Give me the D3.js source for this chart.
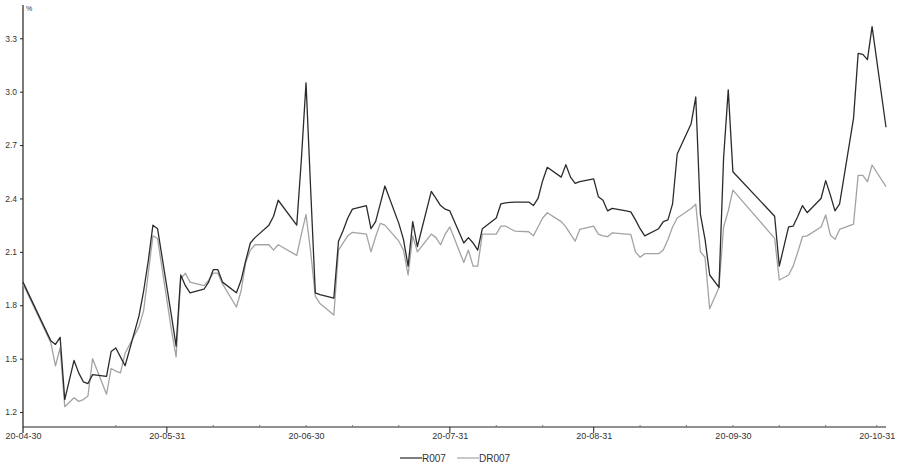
<!DOCTYPE html>
<html>
<head>
<meta charset="utf-8">
<script src="https://cdn.jsdelivr.net/npm/d3@7"></script>
<style>
  html, body { margin: 0; padding: 0; background: #fff; }
  svg { display: block; font-family: Arial, "Liberation Sans", sans-serif; }
</style>
</head>
<body>
<svg id="chart" width="899" height="468"></svg>
<script>
// ---------------- data ----------------
const dates = [
  "2020-04-30","2020-05-06","2020-05-07","2020-05-08","2020-05-09","2020-05-11","2020-05-12","2020-05-13","2020-05-14","2020-05-15",
  "2020-05-18","2020-05-19","2020-05-20","2020-05-21","2020-05-22","2020-05-25","2020-05-26","2020-05-27","2020-05-28","2020-05-29",
  "2020-06-01","2020-06-02","2020-06-03","2020-06-04","2020-06-05","2020-06-08","2020-06-09","2020-06-10","2020-06-11","2020-06-12",
  "2020-06-15","2020-06-16","2020-06-17","2020-06-18","2020-06-19","2020-06-22","2020-06-23","2020-06-24","2020-06-28","2020-06-29",
  "2020-06-30","2020-07-01","2020-07-02","2020-07-03","2020-07-06","2020-07-07","2020-07-08","2020-07-09","2020-07-10","2020-07-13",
  "2020-07-14","2020-07-15","2020-07-16","2020-07-17","2020-07-20","2020-07-21","2020-07-22","2020-07-23","2020-07-24","2020-07-27",
  "2020-07-28","2020-07-29","2020-07-30","2020-07-31","2020-08-03","2020-08-04","2020-08-05","2020-08-06","2020-08-07","2020-08-10",
  "2020-08-11","2020-08-12","2020-08-13","2020-08-14","2020-08-17","2020-08-18","2020-08-19","2020-08-20","2020-08-21","2020-08-24",
  "2020-08-25","2020-08-26","2020-08-27","2020-08-28","2020-08-31","2020-09-01","2020-09-02","2020-09-03","2020-09-04","2020-09-07",
  "2020-09-08","2020-09-09","2020-09-10","2020-09-11","2020-09-14","2020-09-15","2020-09-16","2020-09-17","2020-09-18","2020-09-21",
  "2020-09-22","2020-09-23","2020-09-24","2020-09-25","2020-09-27","2020-09-28","2020-09-29","2020-09-30","2020-10-09","2020-10-10",
  "2020-10-12","2020-10-13","2020-10-14","2020-10-15","2020-10-16","2020-10-19","2020-10-20","2020-10-21","2020-10-22","2020-10-23",
  "2020-10-26","2020-10-27","2020-10-28","2020-10-29","2020-10-30","2020-11-02"
];
const r007 = [
  1.93,1.60,1.58,1.62,1.27,1.49,1.42,1.37,1.36,1.41,
  1.40,1.54,1.56,1.51,1.46,1.74,1.88,2.05,2.25,2.23,
  1.74,1.57,1.97,1.91,1.87,1.89,1.93,2.00,2.00,1.93,
  1.87,1.94,2.05,2.15,2.18,2.25,2.30,2.39,2.25,2.62,
  3.05,2.45,1.87,1.86,1.84,2.16,2.22,2.29,2.34,2.36,
  2.23,2.27,2.37,2.47,2.26,2.17,2.02,2.27,2.13,2.44,
  2.40,2.36,2.34,2.33,2.15,2.18,2.15,2.11,2.23,2.29,
  2.37,2.375,2.378,2.38,2.38,2.36,2.40,2.50,2.575,2.52,
  2.59,2.52,2.485,2.495,2.51,2.41,2.39,2.33,2.344,2.33,
  2.325,2.28,2.23,2.19,2.23,2.27,2.28,2.37,2.65,2.82,
  2.97,2.31,2.17,1.97,1.90,2.63,3.01,2.55,2.30,2.02,
  2.24,2.245,2.30,2.36,2.32,2.40,2.50,2.42,2.33,2.37,
  2.85,3.215,3.21,3.18,3.365,2.80
];
const dr007 = [
  1.92,1.59,1.46,1.56,1.23,1.28,1.26,1.27,1.29,1.50,
  1.30,1.445,1.43,1.42,1.53,1.68,1.77,1.98,2.19,2.175,
  1.66,1.51,1.95,1.98,1.93,1.91,1.94,1.98,1.98,1.92,
  1.79,1.88,2.04,2.11,2.14,2.14,2.11,2.14,2.08,2.20,
  2.31,2.10,1.85,1.81,1.745,2.11,2.15,2.19,2.21,2.20,
  2.10,2.185,2.26,2.25,2.16,2.11,1.97,2.19,2.10,2.20,
  2.18,2.14,2.20,2.24,2.04,2.11,2.02,2.02,2.20,2.20,
  2.245,2.245,2.23,2.217,2.213,2.19,2.24,2.29,2.32,2.27,
  2.24,2.20,2.16,2.226,2.245,2.20,2.19,2.185,2.207,2.20,
  2.198,2.10,2.07,2.09,2.09,2.11,2.17,2.24,2.29,2.344,
  2.368,2.10,2.07,1.78,1.90,2.24,2.33,2.447,2.176,1.942,
  1.97,2.02,2.10,2.185,2.19,2.24,2.307,2.195,2.17,2.226,
  2.256,2.53,2.53,2.494,2.588,2.466
];
const seriesNames = ["R007", "DR007"];
const seriesColors = ["#2b2b2b", "#a3a3a3"];
const yTickValues = [1.2, 1.5, 1.8, 2.1, 2.4, 2.7, 3.0, 3.3];
const xLabelDates = ["2020-04-30","2020-05-31","2020-06-30","2020-07-31","2020-08-31","2020-09-30","2020-10-31"];
const xMajorTickDates = ["2020-05-31","2020-07-31","2020-08-31"];
const xMinorTickDates = ["2020-05-20","2020-06-10","2020-06-20","2020-06-30","2020-07-10","2020-07-20","2020-08-10","2020-08-20",
  "2020-09-10","2020-09-20","2020-09-30","2020-10-10","2020-10-20","2020-10-31"];
const unitLabel = "%";

// ---------------- chart ----------------
const parse = d3.timeParse("%Y-%m-%d");
const svg = d3.select("#chart");
const padL = 23, padR = 886, padT = 5, padB = 427;

const x = d3.scaleTime()
  .domain([parse(dates[0]), parse(dates[dates.length - 1])])
  .range([padL, padR]);
const y = d3.scaleLinear().domain([1.116, 3.487]).range([padB, padT]);

const axisColor = "#222";
const textColor = "#333";

// y axis
const gy = svg.append("g").attr("transform", `translate(${padL},0)`)
  .call(d3.axisLeft(y).tickValues(yTickValues).tickSize(3).tickPadding(3).tickFormat(d3.format(".1f")));
gy.select(".domain").remove();
gy.selectAll(".tick line").attr("stroke", axisColor);
gy.selectAll(".tick text").attr("fill", textColor).style("font-size", "8.5px");
svg.append("line").attr("x1", padL).attr("x2", padL).attr("y1", padT).attr("y2", padB + 6)
  .attr("stroke", axisColor).attr("stroke-width", 1.2);
svg.append("text").attr("x", padL + 3).attr("y", padT + 6).text(unitLabel)
  .attr("fill", textColor).style("font-size", "7px");

// x axis
const gx = svg.append("g").attr("transform", `translate(0,${padB})`)
  .call(d3.axisBottom(x).tickValues(xLabelDates.map(parse)).tickSize(0).tickPadding(6)
    .tickFormat(d3.timeFormat("%y-%m-%d")));
gx.select(".domain").remove();
gx.selectAll(".tick text").attr("fill", textColor).style("font-size", "9px");
svg.append("line").attr("x1", padL).attr("x2", padR).attr("y1", padB).attr("y2", padB)
  .attr("stroke", axisColor).attr("stroke-width", 1.2);
svg.append("g").selectAll("line").data(xMajorTickDates.map(parse)).join("line")
  .attr("x1", d => x(d)).attr("x2", d => x(d)).attr("y1", padB).attr("y2", padB + 6)
  .attr("stroke", axisColor);
svg.append("g").selectAll("line").data(xMinorTickDates.map(parse)).join("line")
  .attr("x1", d => x(d)).attr("x2", d => x(d)).attr("y1", padB - 2).attr("y2", padB)
  .attr("stroke", "#777");

// lines
const seriesData = [r007, dr007];
const line = d3.line().x((d, i) => x(parse(dates[i]))).y(d => y(d));
[1, 0].forEach(k => {
  svg.append("path").datum(seriesData[k])
    .attr("d", line)
    .attr("fill", "none")
    .attr("stroke", seriesColors[k])
    .attr("stroke-width", 1.3)
    .attr("stroke-linejoin", "round");
});

// legend
const legendX = [400, 457];
const legendY = 458;
seriesNames.forEach((name, k) => {
  const g = svg.append("g").attr("transform", `translate(${legendX[k]},${legendY})`);
  g.append("line").attr("x1", 0).attr("x2", 22).attr("y1", 0).attr("y2", 0)
    .attr("stroke", seriesColors[k]).attr("stroke-width", 1.2);
  g.append("text").attr("x", 22).attr("y", 3.5).text(name)
    .attr("fill", textColor).style("font-size", "10px");
});
</script>
</body>
</html>
